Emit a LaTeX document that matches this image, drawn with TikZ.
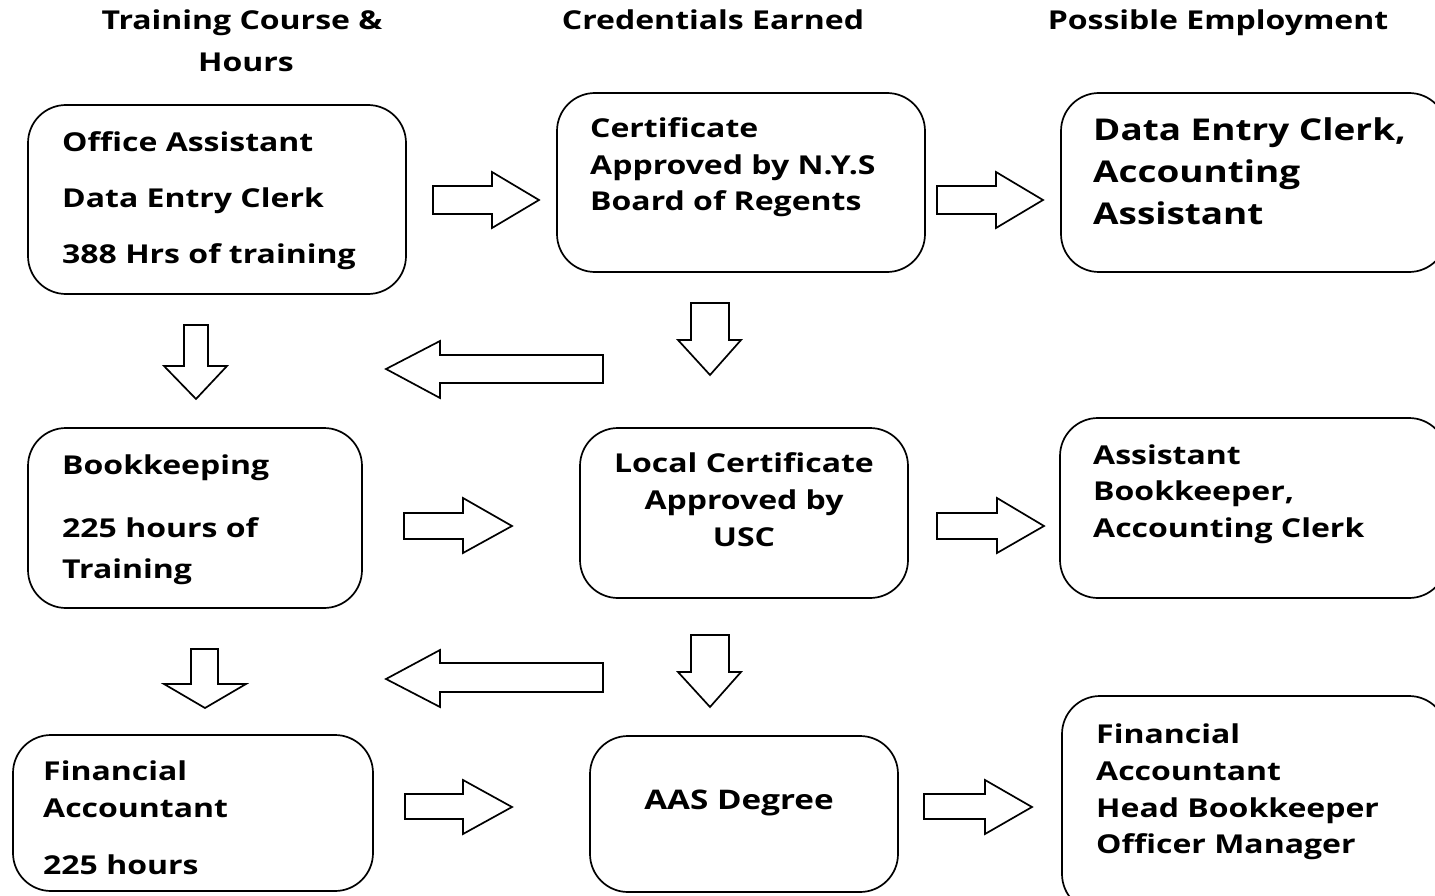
\documentclass[tikz,border=0pt]{standalone}
\usepackage{fontspec}
\setmainfont{Open Sans}[FakeStretch=1.23]
\begin{document}
\begin{tikzpicture}[x=1pt,y=-1pt,
  box/.style={draw,line width=1.7pt,rounded corners=38pt},
  blockarr/.style={draw,line width=1.7pt,fill=white,line join=miter},
  txt/.style={font=\fontsize{26}{30}\selectfont\bfseries,inner sep=0pt},
  bigtxt/.style={font=\fontsize{30}{34}\selectfont\bfseries,inner sep=0pt},
  lt/.style={txt,anchor=base west},
  ct/.style={txt,anchor=base}]
\useasboundingbox (0,0) rectangle (1435,896);
% headers
\node[ct] (h1) at (242,30) {Training Course \&};
\node[ct] (h1b) at (246,72) {Hours};
\node[ct] (h2) at (713,30) {Credentials Earned};
\node[ct] (h3) at (1218,30) {Possible Employment};
% boxes
\draw[box] (28,105) rectangle (406,294) coordinate (A1);
\draw[box] (557,93) rectangle (925,272) coordinate (B1);
\draw[box] (1061,93) rectangle (1447,272) coordinate (C1);
\draw[box] (28,428) rectangle (362,608) coordinate (A2);
\draw[box] (580,428) rectangle (908,598) coordinate (B2);
\draw[box] (1060,418) rectangle (1447,598) coordinate (C2);
\draw[box] (13,735) rectangle (373,891) coordinate (A3);
\draw[box] (590,736) rectangle (898,892) coordinate (B3);
\draw[box] (1062,696) rectangle (1447,912) coordinate (C3);
% texts
\node[lt] (a1a) at (62,152) {Office Assistant};
\node[lt] (a1b) at (62,208) {Data Entry Clerk};
\node[lt] (a1c) at (62,263) {388 Hrs of training};
\node[lt] (b1a) at (590,138) {Certificate};
\node[lt] (b1b) at (590,175) {Approved by N.Y.S};
\node[lt] (b1c) at (590,211) {Board of Regents};
\node[bigtxt,anchor=base west] (c1a) at (1093,141) {Data Entry Clerk,};
\node[bigtxt,anchor=base west] (c1b) at (1093,183) {Accounting};
\node[bigtxt,anchor=base west] (c1c) at (1093,225) {Assistant};
\node[lt] (a2a) at (62,474) {Bookkeeping};
\node[lt] (a2b) at (62,537) {225 hours of};
\node[lt] (a2c) at (62,578) {Training};
\node[ct] (b2a) at (744,472) {Local Certificate};
\node[ct] (b2b) at (744,509) {Approved by};
\node[ct] (b2c) at (744,546) {USC};
\node[lt] (c2a) at (1093,464) {Assistant};
\node[lt] (c2b) at (1093,500) {Bookkeeper,};
\node[lt] (c2c) at (1093,537) {Accounting Clerk};
\node[lt] (a3a) at (43,780) {Financial};
\node[lt] (a3b) at (43,817) {Accountant};
\node[lt] (a3c) at (43,874) {225 hours};
\node[ct,font=\fontsize{27}{30}\selectfont\bfseries] (b3a) at (739,809) {AAS Degree};
\node[lt] (c3a) at (1096,743) {Financial};
\node[lt] (c3b) at (1096,780) {Accountant};
\node[lt] (c3c) at (1096,817) {Head Bookkeeper};
\node[lt] (c3d) at (1096,853) {Officer Manager};
% right block arrows
\draw[blockarr] (433,186) -- (492,186) -- (492,172) -- (539,200) -- (492,228) -- (492,214) -- (433,214) -- cycle;
\draw[blockarr] (937,186) -- (996,186) -- (996,172) -- (1043,200) -- (996,228) -- (996,214) -- (937,214) -- cycle;
\draw[blockarr] (404,513) -- (463,513) -- (463,498) -- (512,526) -- (463,553) -- (463,539) -- (404,539) -- cycle;
\draw[blockarr] (937,513) -- (997,513) -- (997,498) -- (1044,526) -- (997,553) -- (997,539) -- (937,539) -- cycle;
\draw[blockarr] (405,794) -- (463,794) -- (463,780) -- (512,807) -- (463,834) -- (463,819) -- (405,819) -- cycle;
\draw[blockarr] (924,794) -- (985,794) -- (985,780) -- (1032,807) -- (985,834) -- (985,819) -- (924,819) -- cycle;
% down block arrows
\draw[blockarr] (184,325) -- (208,325) -- (208,366) -- (227,366) -- (196,399) -- (164,366) -- (184,366) -- cycle;
\draw[blockarr] (691,303) -- (729,303) -- (729,340) -- (741,340) -- (710,375) -- (678,340) -- (691,340) -- cycle;
\draw[blockarr] (191,649) -- (218,649) -- (218,684) -- (246,684) -- (205,708) -- (164,684) -- (191,684) -- cycle;
\draw[blockarr] (691,635) -- (729,635) -- (729,672) -- (741,672) -- (710,707) -- (678,672) -- (691,672) -- cycle;
% left block arrows
\draw[blockarr] (603,355) -- (440,355) -- (440,341) -- (386,369) -- (440,398) -- (440,383) -- (603,383) -- cycle;
\draw[blockarr] (603,663) -- (440,663) -- (440,650) -- (386,679) -- (440,707) -- (440,692) -- (603,692) -- cycle;
\end{tikzpicture}
\end{document}
